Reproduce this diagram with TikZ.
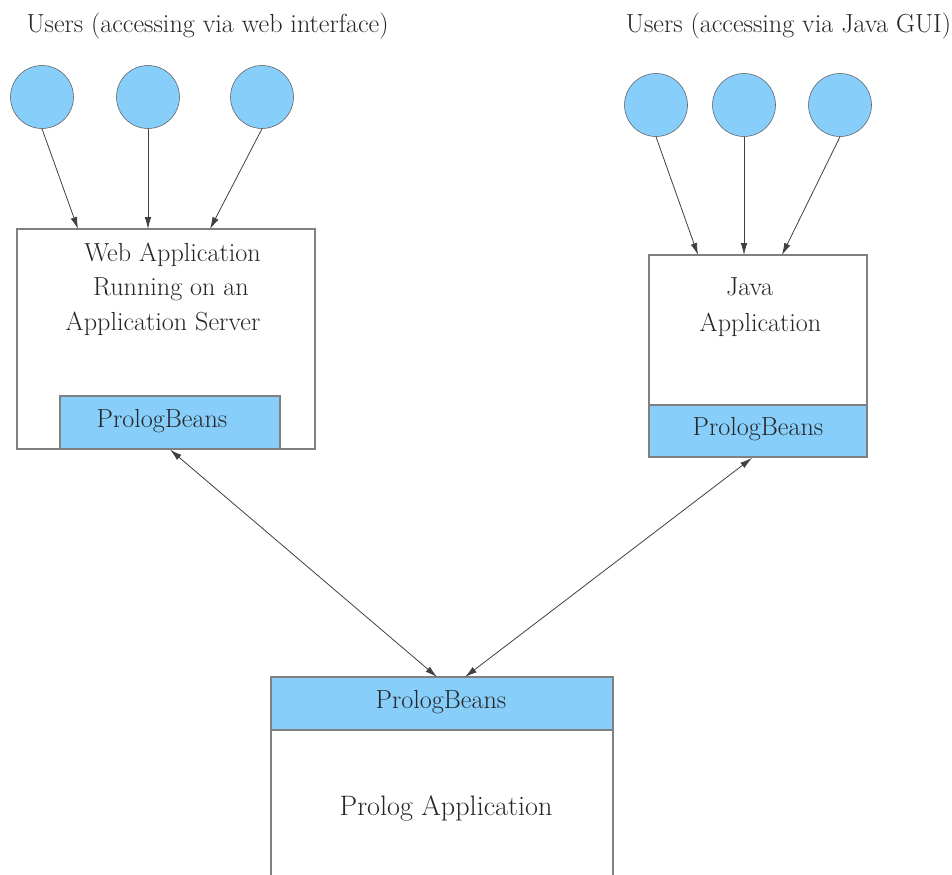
\documentclass[tikz,border=0pt]{standalone}
\usetikzlibrary{arrows.meta}
\definecolor{beanblue}{RGB}{135,206,250}
\begin{document}
\begin{tikzpicture}[x=0.75pt, y=-0.75pt,
        userstyle/.style={circle, draw=black!65, fill=beanblue, minimum size=47.25pt, inner sep=0pt},
        boxstyle/.style={rectangle, draw=black!50, line width=0.9pt, fill=white, inner sep=0pt},
        beanstyle/.style={boxstyle, fill=beanblue},
        txtstyle/.style={anchor=base, inner sep=0pt, text=black!85, font=\fontsize{19.6}{24}\selectfont},
        arrowstyle/.style={draw=black!75, line width=0.6pt, -{Latex[length=9pt, width=5pt]}},
        bothstyle/.style={arrowstyle, {Latex[length=9pt, width=5pt]}-{Latex[length=9pt, width=5pt]}}]
    \useasboundingbox (0,0) rectangle (952,874);
    \clip (0,0) rectangle (952,874);
    % titles
    \node[txtstyle] (webtitle) at (207.5,33) {Users (accessing via web interface)};
    \node[txtstyle] (javatitle) at (788.5,33) {Users (accessing via Java GUI)};
    % users
    \node[userstyle] (wu1) at (42,97) {};
    \node[userstyle] (wu2) at (148,97) {};
    \node[userstyle] (wu3) at (262,97) {};
    \node[userstyle] (ju1) at (656,105) {};
    \node[userstyle] (ju2) at (744,105) {};
    \node[userstyle] (ju3) at (840,105) {};
    % web application
    \node[boxstyle, minimum width=223.5pt, minimum height=165pt] (web) at (166,339) {};
    \node[beanstyle, minimum width=165pt, minimum height=39.75pt] (webpb) at (170,422.5) {};
    \node[txtstyle] (webtxta) at (172.5,261) {Web Application};
    \node[txtstyle] (webtxtb) at (171,295) {Running on an};
    \node[txtstyle] (webtxtc) at (163,330) {Application Server};
    \node[txtstyle] (webpbtxt) at (162,427) {PrologBeans};
    % java application
    \node[boxstyle, minimum width=163.5pt, minimum height=151.5pt] (java) at (758,356) {};
    \node[beanstyle, minimum width=163.5pt, minimum height=39pt] (javapb) at (758,431) {};
    \node[txtstyle] (javatxta) at (749.5,295) {Java};
    \node[txtstyle] (javatxtb) at (760.5,331) {Application};
    \node[txtstyle] (javapbtxt) at (758,435) {PrologBeans};
    % prolog application
    \node[boxstyle, minimum width=256.5pt, minimum height=155.25pt] (prolog) at (442,780.5) {};
    \node[beanstyle, minimum width=256.5pt, minimum height=39.75pt] (prologpb) at (442,703.5) {};
    \node[txtstyle] (prologpbtxt) at (441,708) {PrologBeans};
    \node[txtstyle, font=\fontsize{21.1}{24}\selectfont] (prologtxt) at (446,815) {Prolog Application};
    % arrow ends
    \coordinate (w1) at (78,229);
    \coordinate (w2) at (148,229);
    \coordinate (w3) at (210,229);
    \coordinate (j1) at (698,255);
    \coordinate (j2) at (744,255);
    \coordinate (j3) at (782,255);
    \coordinate (pl) at (437,677);
    \coordinate (pr) at (465,677);
    \coordinate (jb) at (752,458);
    \draw[arrowstyle] (wu1.south) -- (w1);
    \draw[arrowstyle] (wu2.south) -- (w2);
    \draw[arrowstyle] (wu3.south) -- (w3);
    \draw[arrowstyle] (ju1.south) -- (j1);
    \draw[arrowstyle] (ju2.south) -- (j2);
    \draw[arrowstyle] (ju3.south) -- (j3);
    \draw[bothstyle] (webpb.south) -- (pl);
    \draw[bothstyle] (jb) -- (pr);
\end{tikzpicture}
\end{document}
